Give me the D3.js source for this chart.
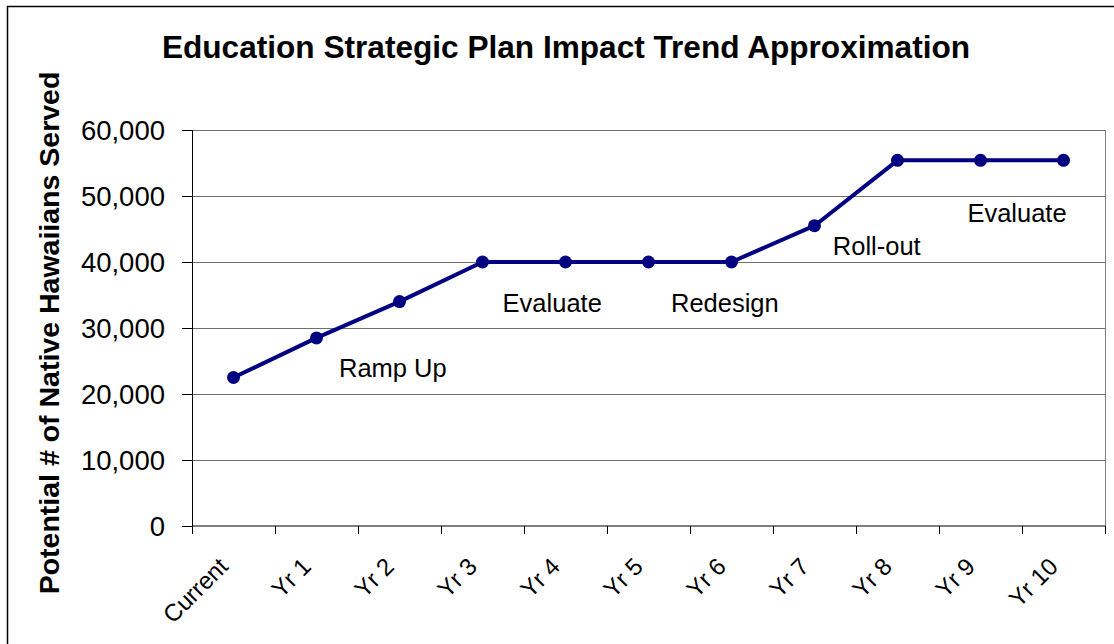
<html>
<head>
<script src="https://cdn.jsdelivr.net/npm/d3@7"></script>
<style>
  body { margin: 0; background: #fff; }
  text { font-family: Arial, "Liberation Sans", sans-serif; }
</style>
</head>
<body>
<div id="chart"></div>
<script>

var categories = ["Current", "Yr 1", "Yr 2", "Yr 3", "Yr 4", "Yr 5", "Yr 6", "Yr 7", "Yr 8", "Yr 9", "Yr 10"];
var served = [22500, 28500, 34000, 40000, 40000, 40000, 40000, 45500, 55400, 55400, 55400];
var yTicks = [0, 10000, 20000, 30000, 40000, 50000, 60000];

// phase notes: text, position along category index, value height
var noteText = ["Ramp Up", "Evaluate", "Redesign", "Roll-out", "Evaluate"];
var noteAt = [1.92, 3.84, 5.92, 7.75, 9.44];
var noteValue = [24000, 33800, 33800, 42400, 47400];

var W = 1114, H = 644;
var svg = d3.select("#chart").append("svg").attr("width", W).attr("height", H);

// outer frame
svg.append("rect")
  .attr("x", 7.5).attr("y", 6.5)
  .attr("width", W + 20).attr("height", H + 20)
  .attr("fill", "none").attr("stroke", "#000").attr("stroke-width", 1.5);

var plotL = 192, plotR = 1105, plotT = 130, plotB = 526;

var x = d3.scaleBand().domain(categories).range([plotL, plotR]);
var xi = d3.scaleLinear().domain([0, categories.length]).range([plotL, plotR]);
var y = d3.scaleLinear().domain([0, 60000]).range([plotB, plotT]);

// gridlines
svg.append("g").selectAll("line").data(yTicks.slice(1)).join("line")
  .attr("x1", plotL).attr("x2", plotR)
  .attr("y1", d => Math.round(y(d)) + 0.5).attr("y2", d => Math.round(y(d)) + 0.5)
  .attr("stroke", "#707070").attr("stroke-width", 1);

// right border of plot
svg.append("line")
  .attr("x1", plotR + 0.5).attr("x2", plotR + 0.5).attr("y1", plotT).attr("y2", plotB)
  .attr("stroke", "#808080");

// y axis
var yAxis = svg.append("g").attr("transform", "translate(" + plotL + ",0)")
  .call(d3.axisLeft(y).tickValues(yTicks).tickSize(10).tickPadding(17).tickFormat(d3.format(",")));
yAxis.selectAll("path, line").attr("stroke", "#000");
yAxis.selectAll("text").style("font-size", "27.5px").attr("fill", "#000").attr("dy", "0.36em");

// x axis, ticks on category boundaries
var xAxis = svg.append("g").attr("transform", "translate(0," + plotB + ")");
xAxis.append("line").attr("x1", plotL).attr("x2", plotR).attr("stroke", "#000");
xAxis.selectAll("line.tick").data(d3.range(categories.length + 1)).join("line")
  .attr("class", "tick")
  .attr("x1", d => Math.round(xi(d)) + 0.5).attr("x2", d => Math.round(xi(d)) + 0.5)
  .attr("y1", 0).attr("y2", 8).attr("stroke", "#000");
xAxis.selectAll("text").data(categories).join("text")
  .attr("transform", d => "translate(" + (x(d) + x.bandwidth() / 2 - 4) + ",42) rotate(-45)")
  .attr("text-anchor", "end")
  .style("font-size", "24px")
  .text(d => d);

// line and markers
var line = d3.line()
  .x((d, i) => x(categories[i]) + x.bandwidth() / 2)
  .y(d => y(d));

svg.append("path").datum(served)
  .attr("d", line)
  .attr("fill", "none").attr("stroke", "#000080").attr("stroke-width", 4)
  .attr("stroke-linejoin", "round");

svg.append("g").selectAll("circle").data(served).join("circle")
  .attr("cx", (d, i) => x(categories[i]) + x.bandwidth() / 2)
  .attr("cy", d => y(d))
  .attr("r", 6.5)
  .attr("fill", "#000080");

// phase notes
svg.append("g").selectAll("text").data(noteText).join("text")
  .attr("x", (d, i) => xi(noteAt[i] + 0.5))
  .attr("y", (d, i) => y(noteValue[i]))
  .attr("dy", "0.36em")
  .attr("text-anchor", "middle")
  .style("font-size", "25.5px")
  .text(d => d);

// title
svg.append("text")
  .attr("x", 566).attr("y", 58)
  .attr("text-anchor", "middle")
  .style("font-size", "31.6px").style("font-weight", "bold")
  .text("Education Strategic Plan Impact Trend Approximation");

// y axis title
svg.append("text")
  .attr("transform", "translate(59,333) rotate(-90)")
  .attr("text-anchor", "middle")
  .style("font-size", "28.5px").style("font-weight", "bold")
  .text("Potential # of Native Hawaiians Served");

</script>
</body>
</html>
